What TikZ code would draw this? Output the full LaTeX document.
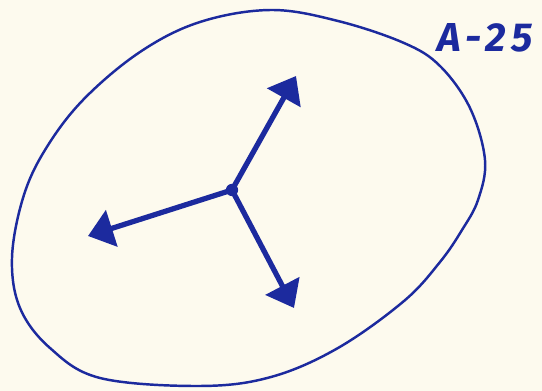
\documentclass[tikz,border=0pt]{standalone}
\usepackage{fontspec}
\newfontfamily\labelfont[LetterSpace=14]{Fira Sans}
\usetikzlibrary{arrows.meta,positioning}
\definecolor{paper}{RGB}{253,250,238}
\definecolor{ink}{RGB}{28,42,158}

\begin{document}
\begin{tikzpicture}[x=0.02cm,y=-0.02cm,>={Triangle[length=5mm,width=7.5mm]}]
\fill[paper] (0,0) rectangle (542,391);
\useasboundingbox (0,0) rectangle (542,391);
\tikzset{pen/.style={draw=ink,line width=1.4pt,line cap=round},
  limb/.style={draw=ink,line width=3pt,line cap=round,->}}
% outer loop
\draw[pen] plot[smooth cycle,tension=0.6] coordinates {(271,10) (338,21) (404,43) (440,66) (470,108) (485,160) (478,200) (462,230) (440,262) (404,301) (338,348) (271,377) (200,386) (100,378) (50,348) (20,308) (12,258) (23,198) (45,150) (83,100) (140,52) (200,22)};
\node[text=ink,font=\labelfont\bfseries\itshape\fontsize{23}{23}\selectfont] (tag) at (485,38) {A-25};
% centre and arms
\coordinate (hub) at (232,190);
\coordinate (tipa) at (296,76);
\coordinate (tipb) at (88,236);
\coordinate (tipc) at (294,308);
\fill[ink] (hub) circle (3.5pt);
\draw[limb] (hub) -- (tipa);
\draw[limb] (hub) -- (tipb);
\draw[limb] (hub) -- (tipc);
\end{tikzpicture}
\end{document}
